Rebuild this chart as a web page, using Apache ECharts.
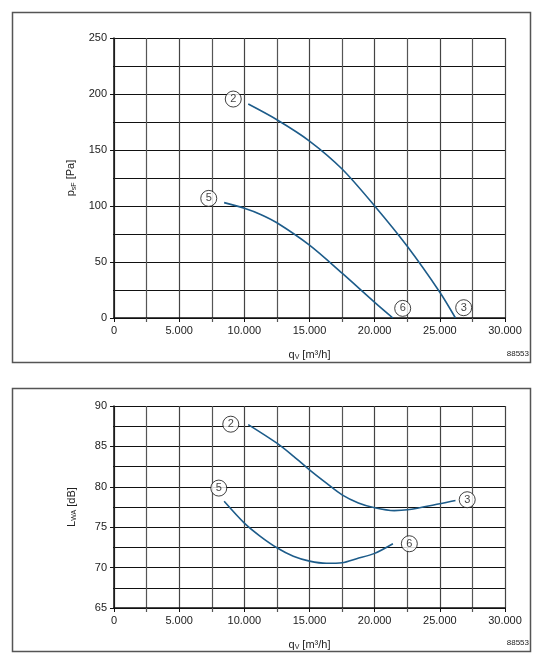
<!DOCTYPE html>
<html>
<head>
<meta charset="utf-8">
<script src="https://cdn.jsdelivr.net/npm/echarts@6/dist/echarts.min.js"></script>
<style>
  html, body { margin: 0; padding: 0; background: #fff; }
  #chart { width: 543px; height: 666px; }
</style>
</head>
<body>
<div id="chart"></div>
<script>
// top diagram: static pressure psF [Pa] over flow qV [m3/h]
var pressureCurve2 = [[10300, 191], [12500, 177], [15000, 158], [17500, 133], [20000, 100], [22500, 64], [25000, 23], [26200, 0]]
var pressureCurve5 = [[8450, 103], [10000, 98], [11250, 92.5], [12500, 85], [15000, 65], [17500, 40], [20000, 14], [21400, 0]]
var pressureMarks = [[9150, 195.5, '2'], [7270, 106.8, '5'], [22150, 8.6, '6'], [26830, 9.2, '3']]

// bottom diagram: sound power LWA [dB] over flow qV
var soundCurve2 = [[10300, 87.7], [12500, 85.4], [13760, 83.8], [15000, 82.1], [16300, 80.45], [17500, 79.0], [18750, 78.0], [20000, 77.4], [21500, 77.05], [22500, 77.15], [25000, 77.9], [26200, 78.3]]
var soundCurve5 = [[8450, 78.2], [10000, 75.5], [11200, 73.9], [12500, 72.45], [13760, 71.4], [15000, 70.8], [16300, 70.53], [17500, 70.6], [18620, 71.1], [20000, 71.76], [21400, 72.95]]
var soundMarks = [[8960, 87.75, '2'], [8040, 79.84, '5'], [22660, 72.95, '6'], [27100, 78.4, '3']]

var curveColor = '#1d5c8a'
var font = 'Liberation Sans, Arial, sans-serif'

function thousands(v) {
  if (v === 0) return '0'
  return (v / 1000).toFixed(0) + '.000'
}

function xAxis(gridIndex) {
  return {
    type: 'value',
    gridIndex: gridIndex,
    min: 0,
    max: 30000,
    interval: 5000,
    minorTick: { show: true, splitNumber: 2, length: 4, lineStyle: { color: '#555', width: 1.2 } },
    minorSplitLine: { show: true, lineStyle: { color: '#555', width: 1.2 } },
    splitLine: { show: true, lineStyle: { color: '#444', width: 1.2 } },
    axisLine: { lineStyle: { color: '#111', width: 1.5 } },
    axisTick: { length: 4, lineStyle: { color: '#111' } },
    axisLabel: { color: '#222', fontSize: 11, fontFamily: font, margin: 7, formatter: thousands },
    name: '{a|q}{s|V}{a| [m³/h]}',
    nameLocation: 'middle',
    nameGap: 30,
    nameTextStyle: {
      rich: {
        a: { fontSize: 11, color: '#222', fontFamily: font },
        s: { fontSize: 7, color: '#222', fontFamily: font, padding: [6, 0, 0, 0] }
      }
    }
  }
}

function yAxis(gridIndex, min, max, interval, base, sub, unit) {
  return {
    type: 'value',
    gridIndex: gridIndex,
    min: min,
    max: max,
    interval: interval,
    minorTick: { show: true, splitNumber: 2, length: 1, lineStyle: { color: '#111' } },
    minorSplitLine: { show: true, lineStyle: { color: '#111', width: 1 } },
    splitLine: { show: true, lineStyle: { color: '#111', width: 1 } },
    axisLine: { lineStyle: { color: '#111', width: 1.5 } },
    axisTick: { length: 4, lineStyle: { color: '#111' } },
    axisLabel: { color: '#222', fontSize: 11, fontFamily: font, margin: 7 },
    name: '{a|' + base + '}{s|' + sub + '}{a| ' + unit + '}',
    nameLocation: 'middle',
    nameRotate: 90,
    nameGap: 36,
    nameTextStyle: {
      rich: {
        a: { fontSize: 11, color: '#222', fontFamily: font },
        s: { fontSize: 7, color: '#222', fontFamily: font, padding: [6, 0, 0, 0] }
      }
    }
  }
}

function curve(data, idx) {
  return {
    type: 'line',
    xAxisIndex: idx,
    yAxisIndex: idx,
    data: data,
    smooth: 0.3,
    showSymbol: false,
    lineStyle: { color: curveColor, width: 1.6 },
    z: 3
  }
}

function marks(data, idx) {
  return {
    type: 'scatter',
    xAxisIndex: idx,
    yAxisIndex: idx,
    data: data,
    symbol: 'circle',
    symbolSize: 16,
    itemStyle: { color: '#fff', borderColor: '#111', borderWidth: 1 },
    label: {
      show: true,
      position: 'inside',
      formatter: function (p) { return p.value[2] },
      color: '#111',
      fontSize: 11,
      fontFamily: font
    },
    z: 4
  }
}

var chart = echarts.init(document.getElementById('chart'))
chart.setOption({
  animation: false,
  backgroundColor: '#fff',
  grid: [
    { left: 114, top: 38, width: 391, height: 280 },
    { left: 114, top: 406, width: 391, height: 202 }
  ],
  xAxis: [xAxis(0), xAxis(1)],
  yAxis: [
    yAxis(0, 0, 250, 50, 'p', 'sF', '[Pa]'),
    yAxis(1, 65, 90, 5, 'L', 'WA', '[dB]')
  ],
  graphic: [
    { type: 'rect', shape: { x: 12.5, y: 12.5, width: 518, height: 350 }, style: { fill: 'none', stroke: '#555', lineWidth: 1.5 }, silent: true },
    { type: 'rect', shape: { x: 12.5, y: 388.5, width: 518, height: 263 }, style: { fill: 'none', stroke: '#555', lineWidth: 1.5 }, silent: true },
    { type: 'text', right: 14, top: 350, style: { text: '88553', fontSize: 8, fontFamily: font, fill: '#222' } },
    { type: 'text', right: 14, top: 639, style: { text: '88553', fontSize: 8, fontFamily: font, fill: '#222' } }
  ],
  series: [
    curve(pressureCurve2, 0),
    curve(pressureCurve5, 0),
    marks(pressureMarks, 0),
    curve(soundCurve2, 1),
    curve(soundCurve5, 1),
    marks(soundMarks, 1)
  ]
})
</script>
</body>
</html>
